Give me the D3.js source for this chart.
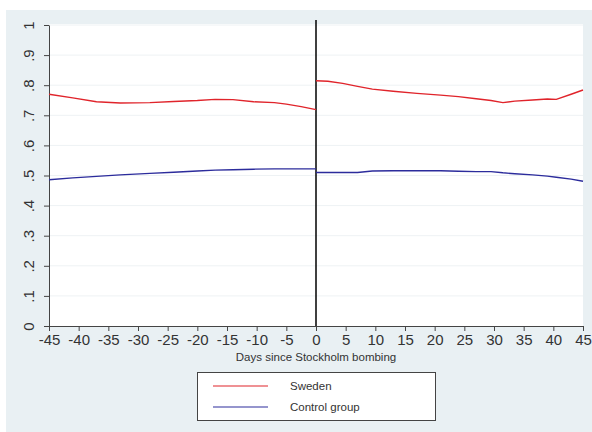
<!DOCTYPE html>
<html>
<head>
<meta charset="utf-8">
<script src="https://cdn.jsdelivr.net/npm/d3@7"></script>
<style>
  html, body { margin: 0; padding: 0; background: #ffffff; }
  svg { display: block; font-family: "Liberation Sans", Arial, sans-serif; }
</style>
</head>
<body>
<svg id="chart" width="592" height="432"></svg>
<script>
// days before / after the event
const daysBefore = [-45, -41, -37, -33, -28, -24, -20, -17, -14, -10.5, -7, -5, -2.5, 0];
const swedenBefore = [0.770, 0.758, 0.745, 0.741, 0.742, 0.746, 0.749, 0.753, 0.752, 0.745, 0.742, 0.737, 0.729, 0.719];
const controlBefore = [0.486, 0.492, 0.497, 0.502, 0.507, 0.511, 0.515, 0.518, 0.519, 0.521, 0.522, 0.522, 0.522, 0.522];

const daysAfter = [0, 2, 4.5, 7, 9.5, 13, 17, 21, 24, 27, 29.5, 31.5, 33.5, 36.5, 39, 40.5, 43, 45];
const swedenAfter = [0.815, 0.813, 0.806, 0.796, 0.787, 0.780, 0.773, 0.767, 0.762, 0.755, 0.749, 0.742, 0.747, 0.751, 0.754, 0.753, 0.770, 0.784];
const controlAfter = [0.510, 0.510, 0.510, 0.510, 0.515, 0.516, 0.516, 0.516, 0.514, 0.513, 0.513, 0.509, 0.506, 0.502, 0.498, 0.494, 0.488, 0.481];

const xTicks = d3.range(-45, 46, 5);
const yTicks = d3.range(0, 11).map(d => d / 10);
const yTickLabels = ["0", ".1", ".2", ".3", ".4", ".5", ".6", ".7", ".8", ".9", "1"];

const legendItems = [
  { label: "Sweden", color: "#e0242b" },
  { label: "Control group", color: "#2c2c9c" }
];

const svg = d3.select("#chart");
const plot = { left: 49, right: 583, top: 24, bottom: 326 };

svg.append("rect")
  .attr("x", 6).attr("y", 10)
  .attr("width", 586).attr("height", 422)
  .attr("fill", "#e9f0f3");

svg.append("rect")
  .attr("x", plot.left).attr("y", plot.top)
  .attr("width", plot.right - plot.left).attr("height", plot.bottom - plot.top)
  .attr("fill", "#ffffff");

const x = d3.scaleLinear().domain([-45, 45]).range([plot.left, plot.right]);
const y = d3.scaleLinear().domain([0, 1]).range([plot.bottom, plot.top + 1]);

// faint horizontal grid
svg.append("g")
  .selectAll("line")
  .data(yTicks.slice(1))
  .join("line")
  .attr("x1", plot.left).attr("x2", plot.right)
  .attr("y1", d => y(d)).attr("y2", d => y(d))
  .attr("stroke", "#eef2f4")
  .attr("stroke-width", 1);

// y axis
const yAxis = svg.append("g")
  .attr("transform", `translate(${plot.left},0)`)
  .call(d3.axisLeft(y).tickValues(yTicks).tickSize(5).tickSizeOuter(0)
    .tickFormat((d, i) => yTickLabels[i]));
yAxis.select(".domain").attr("stroke", "#444");
yAxis.selectAll(".tick line").attr("stroke", "#444");
yAxis.selectAll(".tick text")
  .attr("fill", "#333")
  .attr("font-size", 15)
  .attr("text-anchor", "middle")
  .attr("x", 0).attr("dy", 0)
  .attr("transform", "translate(-19,0) rotate(-90)")
  .attr("y", 0)
  .attr("dominant-baseline", "middle");

// x axis, plain hyphen for negatives
const xAxis = svg.append("g")
  .attr("transform", `translate(0,${plot.bottom})`)
  .call(d3.axisBottom(x).tickValues(xTicks).tickSize(5).tickSizeOuter(0)
    .tickFormat(d => String(d)));
xAxis.select(".domain").attr("stroke", "#444");
xAxis.selectAll(".tick line").attr("stroke", "#444");
xAxis.selectAll(".tick text")
  .attr("fill", "#333")
  .attr("font-size", 15)
  .attr("y", 8);

svg.append("text")
  .attr("x", x(0)).attr("y", 361)
  .attr("text-anchor", "middle")
  .attr("font-size", 11.5)
  .attr("fill", "#333")
  .text("Days since Stockholm bombing");

// event line
svg.append("line")
  .attr("x1", x(0)).attr("x2", x(0))
  .attr("y1", 20).attr("y2", plot.bottom)
  .attr("stroke", "#000")
  .attr("stroke-width", 1.5);

const line = d3.line().x(d => x(d[0])).y(d => y(d[1]));

const series = [
  { days: daysBefore, vals: swedenBefore, color: legendItems[0].color },
  { days: daysAfter, vals: swedenAfter, color: legendItems[0].color },
  { days: daysBefore, vals: controlBefore, color: legendItems[1].color },
  { days: daysAfter, vals: controlAfter, color: legendItems[1].color }
];

svg.append("g")
  .attr("fill", "none")
  .selectAll("path")
  .data(series)
  .join("path")
  .attr("d", s => line(s.days.map((d, i) => [d, s.vals[i]])))
  .attr("stroke", s => s.color)
  .attr("stroke-width", 1.4);

// legend
const legend = svg.append("g");
legend.append("rect")
  .attr("x", 197.5).attr("y", 372.5)
  .attr("width", 238).attr("height", 48)
  .attr("fill", "#ffffff")
  .attr("stroke", "#444");

const li = legend.selectAll("g.item")
  .data(legendItems)
  .join("g")
  .attr("class", "item")
  .attr("transform", (d, i) => `translate(0,${386 + i * 21})`);
li.append("line")
  .attr("x1", 213).attr("x2", 268)
  .attr("stroke", d => d.color)
  .attr("stroke-width", 1.2);
li.append("text")
  .attr("x", 290).attr("y", 0)
  .attr("dy", "0.35em")
  .attr("font-size", 11.5)
  .attr("fill", "#333")
  .text(d => d.label);
</script>
</body>
</html>
